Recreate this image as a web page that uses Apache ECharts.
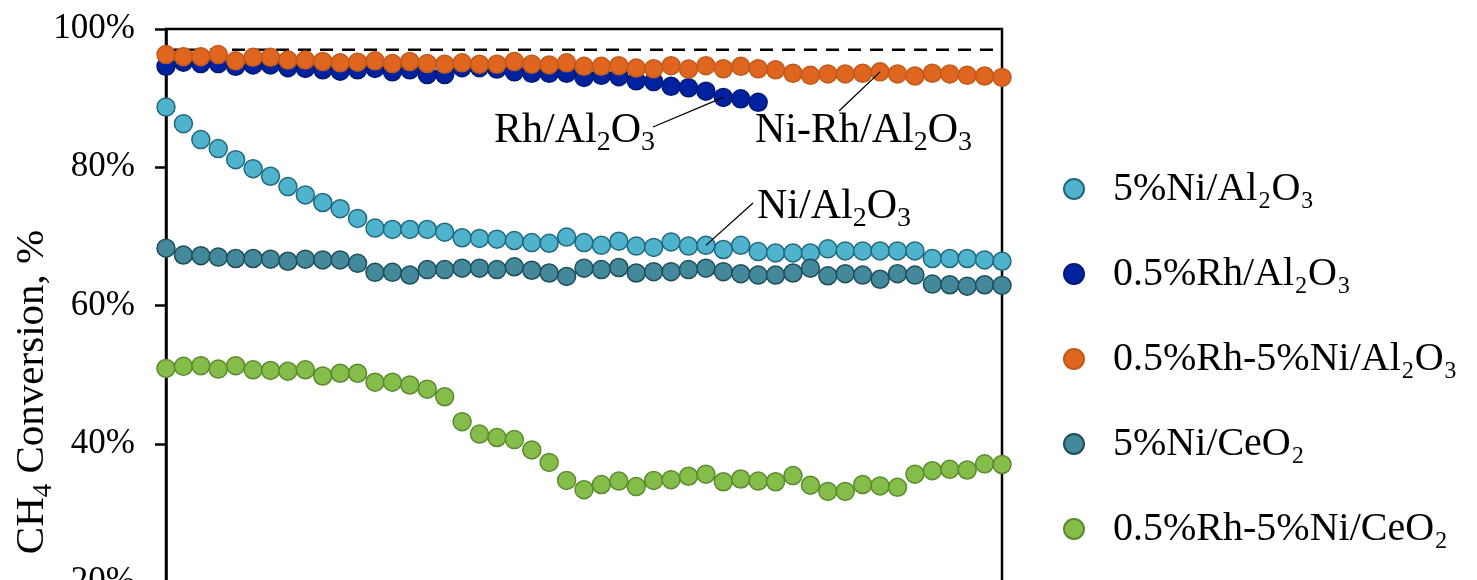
<!DOCTYPE html>
<html>
<head>
<meta charset="utf-8">
<script src="https://cdn.jsdelivr.net/npm/echarts@6/dist/echarts.min.js"></script>
<style>
html,body{margin:0;padding:0;background:#fff;}
#chart{width:1477px;height:580px;}
</style>
</head>
<body>
<div id="chart"></div>
<script>
// ---- data ----
const timePoints = Array.from({length: 49}, (_, i) => String(i + 1));
const yTicks = [20, 40, 60, 80, 100];
const equilibrium = 97;

const seriesNames = ['5%Ni/Al₂O₃', '0.5%Rh/Al₂O₃', '0.5%Rh-5%Ni/Al₂O₃', '5%Ni/CeO₂', '0.5%Rh-5%Ni/CeO₂'];

const niAl = [88.7, 86.3, 84.0, 82.7, 81.1, 79.8, 78.7, 77.2, 76.0, 74.9, 74.0, 72.6, 71.2, 71.0, 71.0, 71.0, 70.6, 69.8, 69.7, 69.6,
  69.4, 69.1, 69.0, 69.9, 69.1, 68.7, 69.3, 68.6, 68.4, 69.2, 68.6, 68.7, 68.1, 68.7, 67.8, 67.6, 67.6, 67.6, 68.2, 67.9,
  67.9, 67.9, 67.9, 67.9, 66.8, 66.8, 66.8, 66.6, 66.4];
const rhAl = [94.6, 95.2, 95.0, 95.0, 94.6, 94.8, 94.8, 94.4, 94.3, 94.1, 93.9, 94.1, 94.3, 93.8, 94.1, 93.4, 93.4, 94.4, 94.4, 94.2,
  93.8, 93.6, 93.6, 93.6, 93.0, 93.3, 93.1, 92.5, 92.4, 91.7, 91.5, 91.0, 90.1, 89.9, 89.4];
const rhNiAl = [96.3, 96.0, 96.0, 96.3, 95.4, 95.9, 95.9, 95.5, 95.5, 95.3, 95.1, 95.2, 95.4, 95.0, 95.3, 95.0, 94.9, 95.1, 94.9, 94.9,
  95.3, 94.9, 94.8, 95.1, 94.6, 94.6, 94.7, 94.35, 94.25, 94.7, 94.2, 94.7, 94.25, 94.6, 94.25, 94.1, 93.6, 93.3, 93.5, 93.5,
  93.6, 93.8, 93.5, 93.2, 93.6, 93.5, 93.3, 93.2, 93.0];
const niCe = [68.3, 67.3, 67.2, 67.0, 66.8, 66.8, 66.7, 66.4, 66.7, 66.6, 66.6, 66.1, 64.8, 64.8, 64.4, 65.2, 65.2, 65.4, 65.4, 65.2,
  65.6, 65.1, 64.7, 64.2, 65.4, 65.2, 65.5, 64.7, 64.9, 64.9, 65.2, 65.4, 64.9, 64.6, 64.4, 64.4, 64.7, 65.4, 64.3, 64.6,
  64.4, 63.8, 64.6, 64.4, 63.1, 63.0, 62.8, 63.0, 62.9];
const rhNiCe = [50.9, 51.2, 51.3, 50.8, 51.3, 50.7, 50.6, 50.5, 50.7, 49.8, 50.2, 50.2, 48.9, 48.9, 48.5, 47.9, 46.8, 43.2, 41.4, 40.9,
  40.6, 39.1, 37.3, 34.7, 33.35, 34.1, 34.6, 33.8, 34.7, 34.8, 35.3, 35.6, 34.5, 34.9, 34.6, 34.5, 35.4, 34.0, 33.1, 33.1,
  34.1, 33.9, 33.7, 35.6, 36.1, 36.3, 36.2, 37.1, 37.0];

// annotation labels: [series index, point index, label rich text]
const annotations = [
  {series: 1, point: 32, text: '{m|Rh/Al}{s|2}{m|O}{s|3}', x: 494, y: 131, lx: 653, ly: 127},
  {series: 2, point: 41, text: '{m|Ni-Rh/Al}{s|2}{m|O}{s|3}', x: 755, y: 131, lx: 839, ly: 111},
  {series: 0, point: 31, text: '{m|Ni/Al}{s|2}{m|O}{s|3}', x: 757, y: 207, lx: 753, ly: 203}
];

const FONT = '"Liberation Serif", "Times New Roman", "DejaVu Serif", serif';
const fills = ['#4FB3CE', '#0022A0', '#E0661F', '#44889B', '#84BD4A'];
const borders = ['#21687C', '#001A73', '#BE5A1C', '#1E4D5A', '#5B8A2D'];
const seriesData = [niAl, rhAl, rhNiAl, niCe, rhNiCe];

const chart = echarts.init(document.getElementById('chart'), null, {renderer: 'canvas'});

const scatterSeries = seriesData.map((d, i) => ({
  name: seriesNames[i],
  type: 'scatter',
  data: d,
  symbol: 'circle',
  symbolSize: 18,
  z: 3,
  itemStyle: {color: fills[i], borderColor: borders[i], borderWidth: 1.5, opacity: 1},
  emphasis: {disabled: true}
}));

const option = {
  animation: false,
  backgroundColor: '#fff',
  grid: {left: 166, top: 29, width: 836, height: 553, outerBoundsMode: 'none', containLabel: false,
    show: true, borderColor: '#000', borderWidth: 2.5, backgroundColor: 'transparent'},
  xAxis: {
    type: 'category', data: timePoints, boundaryGap: false,
    axisLine: {show: false}, axisTick: {show: false}, axisLabel: {show: false}, splitLine: {show: false}
  },
  yAxis: {
    type: 'value', min: yTicks[0], max: yTicks[yTicks.length - 1], interval: 20,
    axisLine: {show: true, lineStyle: {color: '#000', width: 2.5}},
    axisTick: {show: true, inside: false, length: 11, lineStyle: {color: '#000', width: 2.5}},
    axisLabel: {formatter: '{value}%', color: '#000', fontFamily: FONT, fontSize: 35, margin: 31},
    splitLine: {show: false}
  },
  legend: {
    orient: 'vertical', left: 1058, top: 164,
    data: seriesNames,
    icon: 'circle', itemWidth: 20, itemHeight: 20, itemGap: 45,
    textStyle: {fontFamily: FONT, fontSize: 40, color: '#000', lineHeight: 40, padding: [0, 0, 0, 24]},
    selectedMode: false
  },
  series: [{
    name: 'equilibrium', type: 'line',
    data: [[0, equilibrium], [timePoints.length - 1, equilibrium]],
    symbol: 'none', z: 1, silent: true,
    lineStyle: {color: '#000', width: 2.7, type: [13, 9]}
  }].concat(scatterSeries)
};
chart.setOption(option);

// y-axis title and annotations
const graphics = [{
  type: 'text', x: 32, y: 392, rotation: Math.PI / 2,
  style: {
    text: '{m|CH}{s|4}{m| Conversion, %}',
    align: 'center', verticalAlign: 'middle',
    rich: {
      m: {fontFamily: FONT, fontSize: 41, lineHeight: 50, verticalAlign: 'middle', fill: '#000'},
      s: {fontFamily: FONT, fontSize: 27, lineHeight: 27, verticalAlign: 'bottom', fill: '#000'}
    }
  }
}];
annotations.forEach(a => {
  const p = chart.convertToPixel({seriesIndex: a.series + 1}, [a.point, seriesData[a.series][a.point]]);
  graphics.push({
    type: 'line', silent: true, z: 10,
    shape: {x1: a.lx, y1: a.ly, x2: p[0], y2: p[1]},
    style: {stroke: '#000', lineWidth: 1.3}
  });
  graphics.push({
    type: 'text', x: a.x, y: a.y, z: 10,
    style: {
      text: a.text, align: 'left', verticalAlign: 'middle',
      rich: {
        m: {fontFamily: FONT, fontSize: 42, lineHeight: 52, verticalAlign: 'middle', fill: '#000'},
        s: {fontFamily: FONT, fontSize: 28, lineHeight: 28, verticalAlign: 'bottom', fill: '#000'}
      }
    }
  });
});
chart.setOption({graphic: graphics});
</script>
</body>
</html>
